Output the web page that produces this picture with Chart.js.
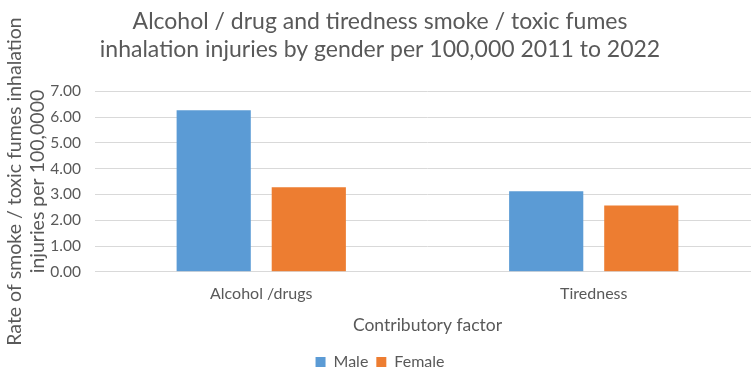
<!DOCTYPE html>
<html><head><meta charset="utf-8">
<script src="https://cdn.jsdelivr.net/npm/chart.js@4/dist/chart.umd.min.js"></script>
<style>
html,body{margin:0;padding:0;background:#fff;overflow:hidden;}
#wrap{width:751px;height:374px;overflow:hidden;position:relative;}
#box{width:760px;height:374px;position:absolute;left:0;top:0;}
</style></head><body>
<div id="wrap"><div id="box"><canvas id="c"></canvas></div></div>
<script>
const categories = ["Alcohol /drugs", "Tiredness"];
const maleValues = [6.26, 3.12];
const femaleValues = [3.28, 2.57];
const seriesNames = ["Male", "Female"];
const titleLines = ["Alcohol / drug and tiredness smoke / toxic fumes", "inhalation injuries by gender per 100,000 2011 to 2022"];
const yTitleLines = ["Rate of smoke / toxic fumes inhalation", "injuries per 100,0000"];
const xTitle = "Contributory factor";

const FONT = "Lato, 'Open Sans', sans-serif";
const GREY = "#595959";

new Chart(document.getElementById('c'), {
  type: 'bar',
  data: {
    labels: categories,
    datasets: [
      {label: seriesNames[0], data: maleValues, backgroundColor: '#5B9BD5', borderWidth: 0},
      {label: seriesNames[1], data: femaleValues, backgroundColor: '#ED7D31', borderWidth: 0}
    ]
  },
  options: {
    responsive: true,
    maintainAspectRatio: false,
    animation: false,
    layout: {padding: {top: 8, left: 0, right: 0, bottom: -6}},
    datasets: {bar: {categoryPercentage: 0.572, barPercentage: 0.78}},
    plugins: {
      title: {display: true, text: titleLines, color: GREY,
        font: {family: FONT, size: 23, weight: 'normal', lineHeight: 1.2},
        padding: {top: 0, bottom: 28}},
      legend: {position: 'bottom', labels: {color: GREY, boxWidth: 10, boxHeight: 10,
        font: {family: FONT, size: 16}, padding: 8}},
      tooltip: {enabled: false}
    },
    scales: {
      x: {
        grid: {display: false, drawTicks: false},
        border: {color: '#D9D9D9', width: 1},
        ticks: {color: GREY, font: {family: FONT, size: 16}, padding: 12},
        title: {display: true, text: xTitle, color: GREY, font: {family: FONT, size: 17.5}, padding: {top: 0, bottom: 10}}
      },
      y: {
        min: 0, max: 7,
        ticks: {stepSize: 1, color: GREY, font: {family: FONT, size: 15.5}, padding: 14,
          callback: v => Number(v).toFixed(2)},
        grid: {color: '#D9D9D9', lineWidth: 1, drawTicks: false},
        border: {display: false},
        title: {display: true, text: yTitleLines, color: GREY, font: {family: FONT, size: 19.5, lineHeight: 1.17}, padding: {top: 3, bottom: 0}},
        afterFit: s => { s.width = 95; }
      }
    }
  }
});
</script></body></html>
